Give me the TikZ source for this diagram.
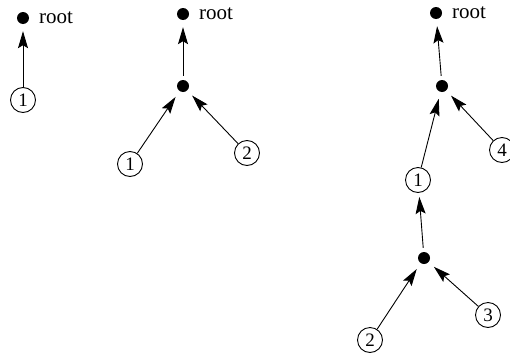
\documentclass[tikz,border=0pt]{standalone}
\usepackage{fontspec}
\setmainfont{Liberation Serif}
\usetikzlibrary{arrows.meta}
\begin{document}
\begin{tikzpicture}[x=1pt,y=-1pt,
  dotnode/.style={circle,fill=black,inner sep=0pt,minimum size=12pt},
  numnode/.style={circle,draw,line width=0.9pt,inner sep=0pt,minimum size=25pt,font=\fontsize{19}{19}\selectfont},
  lbl/.style={inner sep=0pt,anchor=base west,font=\fontsize{21}{21}\selectfont},
  arr/.style={line width=0.9pt,-{Stealth[length=17pt,width=10pt,inset=3pt]}},
  todot/.style={arr,shorten >=7pt},
  tocirc/.style={arr,shorten >=4pt},
  fromdot/.style={shorten <=4pt}]
\useasboundingbox (0,0) rectangle (510,356);
% panel 1
\node[dotnode] (r1) at (23,18) {};
\node[lbl] (t1) at (39,23) {root};
\node[numnode] (c1) at (23,100) {1};
\draw[todot] (c1) -- (r1);
% panel 2
\node[dotnode] (r2) at (183,14) {};
\node[lbl] (t2) at (199,19) {root};
\node[dotnode] (m2) at (183,86) {};
\node[numnode] (a2) at (130,164) {1};
\node[numnode] (b2) at (247,153) {2};
\draw[todot,fromdot] (m2) -- (r2);
\draw[todot] (a2) -- (m2);
\draw[todot] (b2) -- (m2);
% panel 3
\node[dotnode] (r3) at (436,13) {};
\node[lbl] (t3) at (452,18) {root};
\node[dotnode] (m3) at (442,86) {};
\node[numnode] (d3) at (502,150) {4};
\node[numnode] (e3) at (418,180) {1};
\node[dotnode] (l3) at (424,258) {};
\node[numnode] (f3) at (370,340) {2};
\node[numnode] (g3) at (488,315) {3};
\draw[todot,fromdot] (m3) -- (r3);
\draw[todot] (d3) -- (m3);
\draw[todot] (e3) -- (m3);
\draw[tocirc,fromdot] (l3) -- (e3);
\draw[todot] (f3) -- (l3);
\draw[todot] (g3) -- (l3);
\end{tikzpicture}
\end{document}
